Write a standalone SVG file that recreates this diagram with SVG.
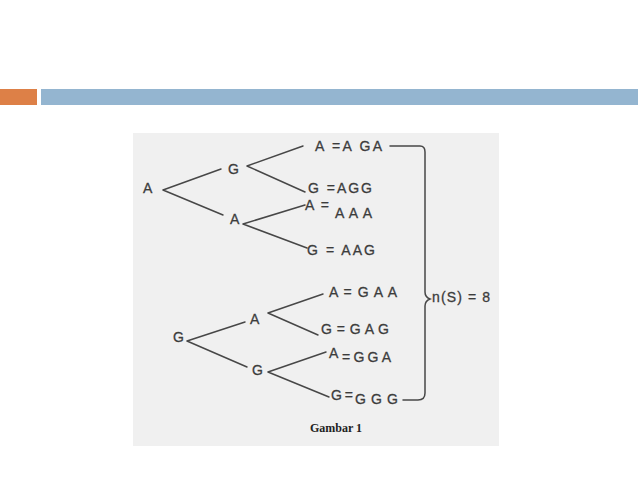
<svg xmlns="http://www.w3.org/2000/svg" width="638" height="479" viewBox="0 0 638 479">
<style>
.t{font-family:"Liberation Sans",Arial,sans-serif;font-size:14px;fill:#3c3c3c;stroke:#3c3c3c;stroke-width:0.3}
.c{fill:none;stroke:#474747;stroke-width:1.5;stroke-linecap:round}
.cap{font-family:"Liberation Serif","Times New Roman",serif;font-size:12px;font-weight:bold;fill:#222}
</style>
<rect width="638" height="479" fill="#ffffff"/>
<rect x="0" y="89" width="37" height="16" fill="#dd8047"/>
<rect x="41" y="89" width="597" height="16" fill="#94b5d0"/>
<rect x="133" y="133" width="366" height="313" fill="#f0f0f0"/>
<g id="connectors">
<path class="c" d="M163,190 L221,169 M163,190 L223,215"/>
<path class="c" d="M247,166 L303,146 M247,166 L305,192"/>
<path class="c" d="M243,224 L305,205 M243,224 L307,248"/>
<path class="c" d="M187,341 L245,322 M187,341 L247,367"/>
<path class="c" d="M268,313 L323,294 M268,313 L318,335"/>
<path class="c" d="M268,372 L326,352 M268,372 L329,397"/>
<path class="c" d="M390,146 L420,146 Q425,146 425,152 L425,292 Q425,297 430,299 Q425,301 425,306 L425,393 Q425,400 418,400 L403,400"/>
</g>
<g id="n1"><text class="t" x="143" y="193">A</text></g>
<g id="n2"><text class="t" x="228" y="174">G</text></g>
<g id="n3"><text class="t" x="230" y="224">A</text></g>
<g id="n4"><text class="t" x="173" y="342">G</text></g>
<g id="n5"><text class="t" x="250" y="324">A</text></g>
<g id="n6"><text class="t" x="252" y="375">G</text></g>
<g id="l1"><text class="t" x="315" y="151" textLength="67" lengthAdjust="spacing">A =A GA</text></g>
<g id="l2"><text class="t" x="308" y="193" textLength="64" lengthAdjust="spacing">G =AGG</text></g>
<g id="l3"><text class="t" x="305" y="210" textLength="24" lengthAdjust="spacing">A =</text><text class="t" x="335" y="218" textLength="37" lengthAdjust="spacing">AAA</text></g>
<g id="l4"><text class="t" x="307" y="255" textLength="68" lengthAdjust="spacing">G = AAG</text></g>
<g id="l5"><text class="t" x="329" y="297" textLength="68" lengthAdjust="spacing">A = G A A</text></g>
<g id="l6"><text class="t" x="321" y="334" textLength="68" lengthAdjust="spacing">G = G A G</text></g>
<g id="l7"><text class="t" x="329" y="358">A</text><text class="t" x="342" y="362" textLength="49" lengthAdjust="spacing">=GGA</text></g>
<g id="l8"><text class="t" x="331" y="400" textLength="22" lengthAdjust="spacing">G =</text><text class="t" x="355" y="404" textLength="43" lengthAdjust="spacing">GGG</text></g>
<g id="total"><text class="t" x="432" y="302" textLength="58" lengthAdjust="spacing">n(S) = 8</text></g>
<text class="cap" x="310" y="432">Gambar 1</text>
</svg>
